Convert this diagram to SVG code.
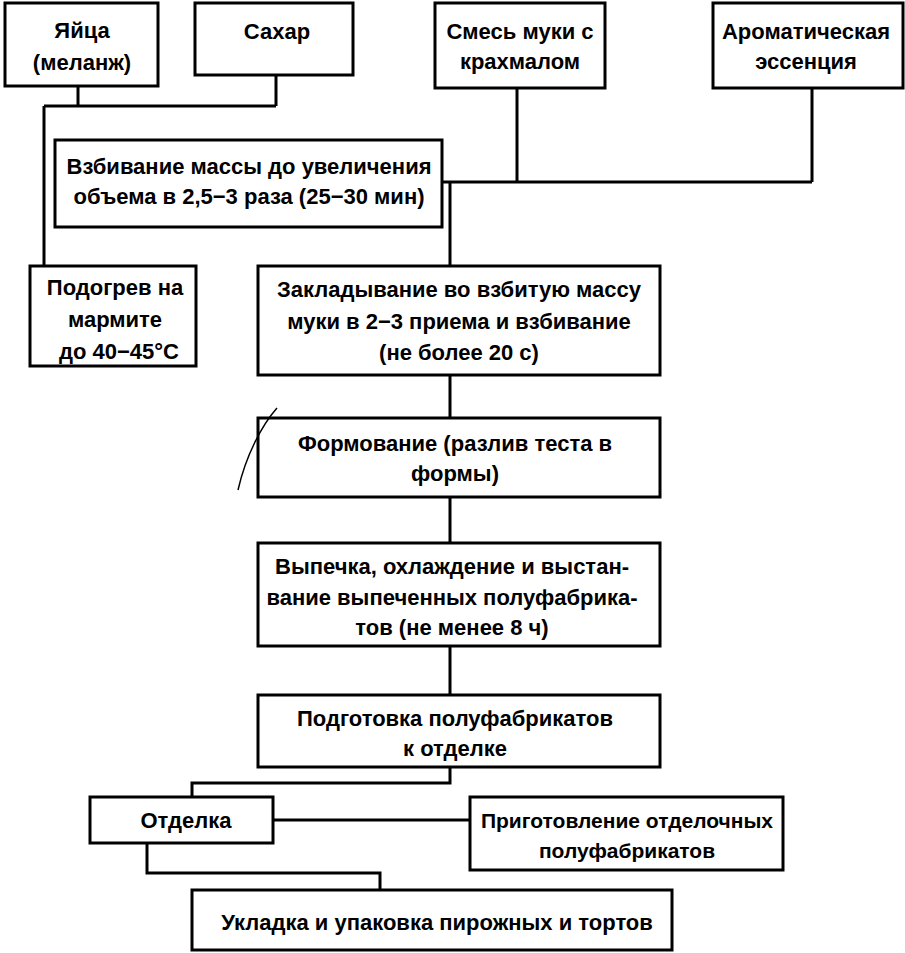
<svg xmlns="http://www.w3.org/2000/svg" width="905" height="953" viewBox="0 0 905 953">
<style>
.box{fill:#fff;stroke:#000;stroke-width:3}
.t{font-family:"Liberation Sans",Arial,sans-serif;font-weight:bold;font-size:22px;fill:#000;text-anchor:middle}
.s{font-size:21px}
.c{fill:none;stroke:#000;stroke-width:3}
</style>
<rect width="905" height="953" fill="#fff"/>
<g id="connectors">
<path class="c" d="M78,86V106M276,75V106M44,106H276M44,106V266"/>
<path class="c" d="M517,88V182M812,88V182M442,182H812M450,182V266"/>
<path class="c" d="M450,375V418M450,497V543M450,646V695"/>
<path class="c" d="M450,767V783H192V797"/>
<path class="c" d="M273,820H470"/>
<path class="c" d="M147,843V873H380V890"/>
</g>
<g id="n1"><rect class="box" x="5" y="3" width="153" height="83"/><text class="t" x="82" y="38">Яйца</text><text class="t" x="82" y="70">(меланж)</text></g>
<g id="n2"><rect class="box" x="195" y="3" width="158" height="72"/><text class="t" x="277" y="39">Сахар</text></g>
<g id="n3"><rect class="box" x="435" y="3" width="170" height="85"/><text class="t" x="520" y="39">Смесь муки с</text><text class="t" x="520" y="69">крахмалом</text></g>
<g id="n4"><rect class="box" x="713" y="3" width="190" height="85"/><text class="t" x="806" y="39">Ароматическая</text><text class="t" x="806" y="69">эссенция</text></g>
<g id="n5"><rect class="box" x="55" y="140" width="387" height="87"/><text class="t" x="249" y="174">Взбивание массы до увеличения</text><text class="t" x="249" y="204">объема в 2,5−3 раза (25−30 мин)</text></g>
<g id="n6"><rect class="box" x="30" y="266" width="166" height="100"/><text class="t" x="115" y="295">Подогрев на</text><text class="t" x="115" y="327">мармите</text><text class="t" x="119" y="359">до 40−45°С</text></g>
<g id="n7"><rect class="box" x="258" y="266" width="402" height="109"/><text class="t" x="459" y="297">Закладывание во взбитую массу</text><text class="t" x="459" y="329">муки в 2−3 приема и взбивание</text><text class="t" x="459" y="360">(не более 20 с)</text></g>
<g id="n8"><rect class="box" x="258" y="418" width="402" height="79"/><text class="t" x="455" y="451">Формование (разлив теста в</text><text class="t" x="455" y="481">формы)</text></g>
<path d="M277,408C262,425 246,455 238,490" fill="none" stroke="#000" stroke-width="1.5"/>
<g id="n9"><rect class="box" x="258" y="543" width="402" height="103"/><text class="t" x="452" y="574">Выпечка, охлаждение и выстан-</text><text class="t" x="452" y="605">вание выпеченных полуфабрика-</text><text class="t" x="452" y="635">тов (не менее 8 ч)</text></g>
<g id="n10"><rect class="box" x="258" y="695" width="402" height="72"/><text class="t" x="455" y="726">Подготовка полуфабрикатов</text><text class="t" x="455" y="756">к отделке</text></g>
<g id="n11"><rect class="box" x="90" y="797" width="183" height="46"/><text class="t" x="186" y="828">Отделка</text></g>
<g id="n12"><rect class="box" x="470" y="797" width="313" height="73"/><text class="t s" x="627" y="828">Приготовление отделочных</text><text class="t s" x="627" y="858">полуфабрикатов</text></g>
<g id="n13"><rect class="box" x="192" y="890" width="480" height="60"/><text class="t" x="437" y="930">Укладка и упаковка пирожных и тортов</text></g>
</svg>
